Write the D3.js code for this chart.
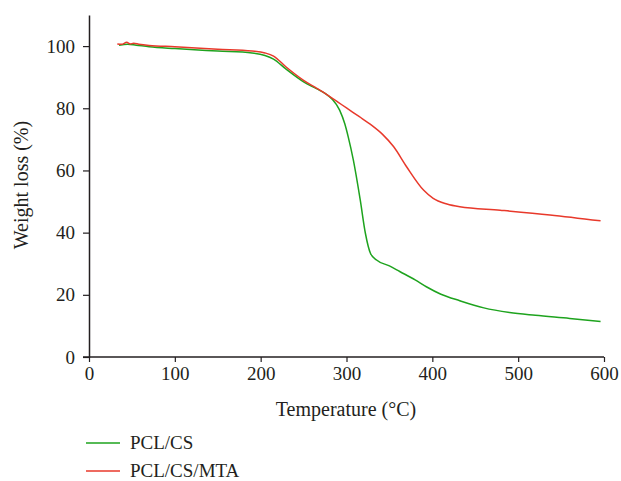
<!DOCTYPE html>
<html>
<head>
<meta charset="utf-8">
<script src="https://cdn.jsdelivr.net/npm/d3@7"></script>
<style>
  body { margin: 0; background: #fff; }
  text { font-family: "Liberation Serif", "DejaVu Serif", serif; fill: #231f20; }
</style>
</head>
<body>
<div id="chart"></div>
<script>
// temperature (°C) and weight (%)
const pclTemp = [35, 45, 55, 70, 100, 150, 190, 205, 215, 230, 250, 265, 275, 283, 292, 298, 302, 308, 316, 322, 328, 335, 350, 362, 380, 393, 410, 432, 460, 490, 520, 560, 596];
const pclWeight = [100.3, 100.6, 100.3, 99.8, 99.2, 98.4, 97.8, 97.0, 95.8, 92.5, 88.5, 86.3, 84.8, 83.0, 79.4, 75.0, 70.8, 63.3, 50.5, 39.8, 33.3, 31.2, 29.3, 27.5, 24.8, 22.6, 20.2, 18.1, 15.8, 14.3, 13.4, 12.4, 11.4];

const mtaTemp = [33, 38, 44, 48, 52, 58, 70, 100, 150, 190, 205, 215, 230, 250, 265, 275, 290, 300, 315, 328, 342, 355, 370, 390, 401, 417, 432, 479, 537, 596];
const mtaWeight = [100.7, 100.6, 101.2, 100.7, 100.9, 100.6, 100.2, 99.8, 99.0, 98.4, 97.8, 96.8, 93.2, 89.0, 86.5, 84.8, 82.0, 80.1, 77.3, 74.8, 71.6, 67.6, 61.2, 53.6, 51.0, 49.2, 48.3, 47.2, 45.7, 43.8];

const xTicks = [0, 100, 200, 300, 400, 500, 600];
const yTicks = [0, 20, 40, 60, 80, 100];

const series = [
  { name: "PCL/CS", color: "#1ea31e", temp: pclTemp, weight: pclWeight },
  { name: "PCL/CS/MTA", color: "#e8392b", temp: mtaTemp, weight: mtaWeight }
];

const width = 621, height = 481;
const svg = d3.select("#chart").append("svg")
  .attr("width", width)
  .attr("height", height);

const x = d3.scaleLinear().domain([0, 600]).range([89, 604]);
const y = d3.scaleLinear().domain([0, 110]).range([357, 15]);

// axes
const xAxis = svg.append("g")
  .attr("transform", `translate(0,${y(0)})`)
  .call(d3.axisBottom(x).tickValues(xTicks).tickSize(5).tickPadding(5).tickSizeOuter(0));
const yAxis = svg.append("g")
  .attr("transform", `translate(${x(0)},0)`)
  .call(d3.axisLeft(y).tickValues(yTicks).tickSize(6).tickPadding(8).tickSizeOuter(0));

[xAxis, yAxis].forEach(g => {
  g.select(".domain").attr("stroke", "#231f20").attr("stroke-width", 1.5);
  g.selectAll(".tick line").attr("stroke", "#231f20").attr("stroke-width", 1.2);
  g.selectAll(".tick text").attr("fill", "#231f20").style("font-size", "19px");
});
// x axis line reaches back a little past the y axis
xAxis.select(".domain").attr("d", `M${x(0) - 6},0H${x(600)}`);

// curves
const line = d3.line()
  .x(d => x(d[0]))
  .y(d => y(d[1]))
  .curve(d3.curveMonotoneX);

series.forEach(s => {
  svg.append("path")
    .datum(s.temp.map((t, i) => [t, s.weight[i]]))
    .attr("fill", "none")
    .attr("stroke", s.color)
    .attr("stroke-width", 1.5)
    .attr("d", line);
});

// axis titles
svg.append("text")
  .attr("x", 346)
  .attr("y", 416)
  .attr("text-anchor", "middle")
  .style("font-size", "20px")
  .text("Temperature (°C)");

svg.append("text")
  .attr("transform", "translate(28,185) rotate(-90)")
  .attr("text-anchor", "middle")
  .style("font-size", "20px")
  .text("Weight loss (%)");

// legend
const legend = svg.append("g");
series.forEach((s, i) => {
  const ly = 443 + i * 28;
  legend.append("line")
    .attr("x1", 86).attr("x2", 120)
    .attr("y1", ly).attr("y2", ly)
    .attr("stroke", s.color)
    .attr("stroke-width", 1.5);
  legend.append("text")
    .attr("x", 130)
    .attr("y", ly)
    .attr("dy", "0.3em")
    .style("font-size", "19px")
    .text(s.name);
});
</script>
</body>
</html>
